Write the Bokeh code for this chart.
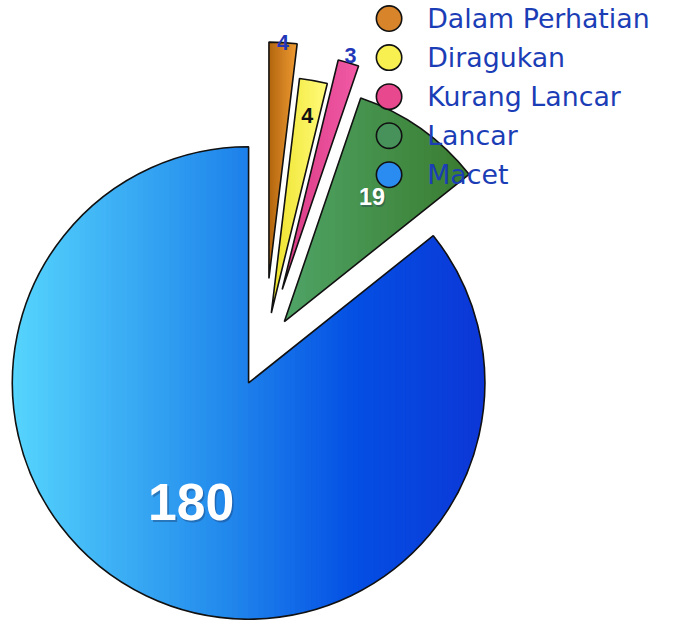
import math
from bokeh.plotting import figure
from bokeh.models import Range1d, ColumnDataSource
from bokeh.core.properties import value
from bokeh.embed import file_html
from bokeh.resources import INLINE

# ---------------- data ----------------
categories = ["Dalam Perhatian", "Diragukan", "Kurang Lancar", "Lancar", "Macet"]
counts = [4, 4, 3, 19, 180]

# ---------------- styles ----------------
W, H = 659, 620
SX = 675.0 / W                             # data units per screen pixel
explode = [73, 38, 64, 35, 38]            # outward offset of each slice
label_r = [1.0, 0.85, 1.03, 0.645, 0.56]  # label distance (fraction of radius)
label_color = ["#2236B8", "#111111", "#2236B8", "#FFFFFF", "#FFFFFF"]
label_px = [21.5, 21.5, 21.5, 23.4, 51.7]
label_size = ["%.1fpx" % v for v in label_px]
grad_stops = [
    [(0.0, "#B2650E"), (1.0, "#EE9A33")],
    [(0.0, "#EEE22A"), (1.0, "#FFFB7A")],
    [(0.0, "#D83A84"), (1.0, "#F25AA6")],
    [(0.0, "#4FA466"), (1.0, "#3A7C30")],
    [(0.0, "#56D5FD"), (0.45, "#2289EC"), (0.72, "#0450E4"), (1.0, "#0C37D6")],
]
legend_fill = ["#D8842A", "#F8F050", "#E8488E", "#46925A", "#2A8CF0"]
CX, CY, R = 270.6, -357.5, 242.0


def hex2rgb(h):
    h = h.lstrip("#")
    return tuple(int(h[i:i + 2], 16) for i in (0, 2, 4))


def color_at(stops, t):
    for (t0, c0), (t1, c1) in zip(stops[:-1], stops[1:]):
        if t <= t1:
            f = 0 if t1 == t0 else (t - t0) / (t1 - t0)
            a, b = hex2rgb(c0), hex2rgb(c1)
            return "#%02x%02x%02x" % tuple(int(round(a[k] + (b[k] - a[k]) * f)) for k in range(3))
    return stops[-1][1]


def clip(poly, a, keep_greater):
    out = []
    n = len(poly)
    for i in range(n):
        cur, prev = poly[i], poly[i - 1]
        cin = cur[0] >= a if keep_greater else cur[0] <= a
        pin = prev[0] >= a if keep_greater else prev[0] <= a
        if cin:
            if not pin:
                t = (a - prev[0]) / (cur[0] - prev[0])
                out.append((a, prev[1] + t * (cur[1] - prev[1])))
            out.append(cur)
        elif pin:
            t = (a - prev[0]) / (cur[0] - prev[0])
            out.append((a, prev[1] + t * (cur[1] - prev[1])))
    return out


p = figure(width=W, height=H, x_range=Range1d(0, 675), y_range=Range1d(-H * SX, 0),
           output_backend="svg", toolbar_location=None, min_border=0)
p.axis.visible = False
p.grid.visible = False
p.outline_line_color = None
p.background_fill_color = "white"

total = float(sum(counts))
theta = [0.0]
for c in counts:
    theta.append(theta[-1] + 360.0 * c / total)

vx, vy, sa, ea, lx, ly = [], [], [], [], [], []
for i, c in enumerate(counts):
    ts, te = theta[i], theta[i + 1]
    mid = math.radians((ts + te) / 2)
    x0 = CX + explode[i] * math.sin(mid)
    y0 = CY + explode[i] * math.cos(mid)
    vx.append(x0); vy.append(y0)
    sa.append(math.radians(90 - te)); ea.append(math.radians(90 - ts))
    lx.append(x0 + label_r[i] * R * math.sin(mid))
    ly.append(y0 + label_r[i] * R * math.cos(mid))

    # gradient fill built from vertical strips clipped to the slice
    steps = max(4, int((te - ts) * 2))
    poly = [(x0, y0)]
    for k in range(steps + 1):
        a = math.radians(ts + (te - ts) * k / steps)
        poly.append((x0 + R * math.sin(a), y0 + R * math.cos(a)))
    xmin = min(q[0] for q in poly); xmax = max(q[0] for q in poly)
    nstrip = 90 if c > 50 else 25
    xs, ys, cols = [], [], []
    w = (xmax - xmin) / nstrip
    for s in range(nstrip):
        a0 = xmin + s * w - 0.6
        a1 = xmin + (s + 1) * w + 0.6
        pc = clip(clip(poly, a0, True), a1, False)
        if len(pc) >= 3:
            xs.append([q[0] for q in pc]); ys.append([q[1] for q in pc])
            cols.append(color_at(grad_stops[i], (s + 0.5) / nstrip))
    p.patches(xs=xs, ys=ys, fill_color=cols, line_color=None)

src = ColumnDataSource(dict(x=vx, y=vy, sa=sa, ea=ea, cat=categories,
                            lx=lx, ly=ly, lab=[str(c) for c in counts],
                            lc=label_color, ls=label_size))
p.wedge(x="x", y="y", radius=R, start_angle="sa", end_angle="ea", source=src,
        fill_color=None, line_color="#111111", line_width=1.6)

# slice labels (white ones get a soft dark shadow)
shadow = ColumnDataSource(dict(x=[lx[3] + 1.2, lx[4] + 1.6], y=[ly[3] - 1.2, ly[4] - 1.6],
                               t=[str(counts[3]), str(counts[4])], s=[label_size[3], label_size[4]]))
p.text(x="x", y="y", text="t", source=shadow, text_font=value("Liberation Sans"),
       text_font_style="bold", text_font_size="s", text_color="#1a2a55", text_alpha=0.35,
       text_align="center", text_baseline="middle")
p.text(x="lx", y="ly", text="lab", source=src, text_font=value("Liberation Sans"),
       text_font_style="bold", text_font_size="ls", text_color="lc",
       text_align="center", text_baseline="middle")

# legend
leg_y = [-(18.5 + 40 * i) for i in range(len(categories))]
p.scatter(x=[398] * len(categories), y=leg_y, size=25.4, marker="circle",
          fill_color=legend_fill, line_color="#111111", line_width=1.6)
p.text(x=[437] * len(categories), y=leg_y, text=categories,
       text_font=value("DejaVu Sans"), text_font_size="26.8px", text_color="#1B3DB6",
       text_align="left", text_baseline="middle")

open("out.html", "w").write(file_html(p, INLINE))
